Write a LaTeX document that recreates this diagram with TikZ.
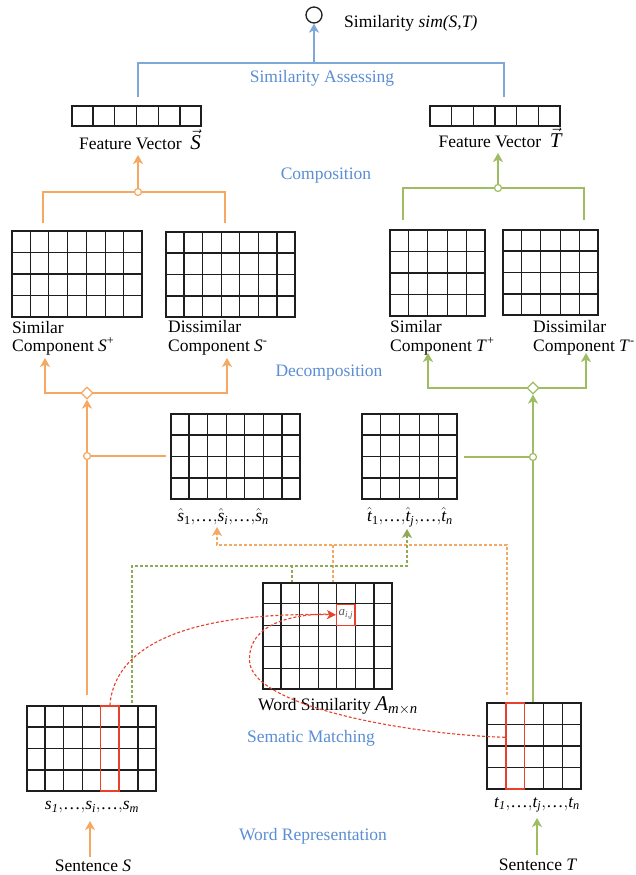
\documentclass[tikz,border=0pt]{standalone}
\usepackage{fontspec}
\setmainfont{Liberation Serif}
\usepackage{amsmath}
\usetikzlibrary{calc,arrows.meta,shapes.geometric}
\definecolor{ora}{HTML}{F5A862}
\definecolor{gre}{HTML}{9EBD63}
\definecolor{greD}{HTML}{8DAA55}
\definecolor{blu}{HTML}{7FA7D7}
\definecolor{blut}{HTML}{5B8ED4}
\definecolor{redd}{HTML}{E8402C}
\definecolor{gridc}{HTML}{1E1E1E}
\newcommand\matgrid[3]{%
  \pgfmathtruncatemacro\mgc{#2-1}\pgfmathtruncatemacro\mgr{#3-1}%
  \foreach \k in {1,...,\mgc}{\draw[gridline] ($(#1.north west)!{\k/#2}!(#1.north east)$) -- ($(#1.south west)!{\k/#2}!(#1.south east)$);}%
  \ifnum\mgr>0
  \foreach \k in {1,...,\mgr}{\draw[gridline] ($(#1.north west)!{\k/#3}!(#1.south west)$) -- ($(#1.north east)!{\k/#3}!(#1.south east)$);}%
  \fi
}
\newcommand\myell{\text{…}}
\newcommand\mycm{{,}}
\tikzset{
  mat/.style={draw=gridc, line width=1.2pt, inner sep=0pt},
  gridline/.style={draw=gridc, line width=1.2pt},
  conn/.style={line width=1.3pt},
  oline/.style={conn, draw=ora},
  gline/.style={conn, draw=gre},
  bline/.style={conn, draw=blu},
  tipA/.style={-{Stealth[length=9pt,width=10pt,inset=2.5pt]}},
  tipB/.style={{Stealth[length=9pt,width=10pt,inset=2.5pt]}-{Stealth[length=9pt,width=10pt,inset=2.5pt]}},
  odash/.style={draw=ora, line width=1.1pt, dash pattern=on 3pt off 2pt},
  gdash/.style={draw=greD, line width=1.1pt, dash pattern=on 3pt off 2pt},
  rdash/.style={draw=redd, line width=1.1pt, dash pattern=on 3pt off 2pt},
  redbox/.style={draw=redd, line width=1.4pt, inner sep=0pt},
  junc/.style={circle, draw=#1, fill=white, line width=1.2pt, minimum size=7pt, inner sep=0pt},
  diam/.style={diamond, draw=#1, fill=white, line width=1.2pt, minimum size=12pt, inner sep=0pt},
  lbl/.style={font=\fontsize{17.5}{19}\selectfont, inner sep=0pt},
  blbl/.style={lbl, text=blut},
}
\begin{document}
\begin{tikzpicture}[x=1pt,y=-1pt]
\path[use as bounding box, fill=white] (0,0) rectangle (635,875);

% ---------- top ----------
\node[draw=gridc, circle, line width=1.3pt, minimum size=16pt, inner sep=0pt] (simc) at (314,15) {};
\node[lbl, anchor=base west] (simt) at (344,28) {Similarity \textit{sim(S,T)}};
\node[blbl] (lSA) at (322,78) {Similarity Assessing};
\coordinate (bL) at (138,97);
\coordinate (bR) at (504,97);
\coordinate (bM) at (314,63);
\draw[bline] (bL) |- (bM) -| (bR);
\draw[bline, tipA] (bM) -- (simc);

% feature vectors
\node[mat, minimum width=129pt, minimum height=20pt] (FVS) at (136.5,116) {};
\matgrid{FVS}{6}{1}
\node[mat, minimum width=130pt, minimum height=20pt] (FVT) at (495,116) {};
\matgrid{FVT}{6}{1}
\node[lbl, anchor=base] (FVSl) at (140,149) {Feature Vector~ {\fontsize{21}{21}\selectfont$\vec{\textit{S}}$}};
\node[lbl, anchor=base] (FVTl) at (500,147) {Feature Vector~ {\fontsize{21}{21}\selectfont$\vec{\textit{T}}$}};

\node[blbl] (lCo) at (326,176) {Composition};

% composition connectors
\coordinate (ocL) at (43,223);
\coordinate (ocR) at (225,223);
\coordinate (oj1) at (138,192);
\coordinate (ot1) at (138,155);
\draw[oline] (ocL) |- (oj1) -| (ocR);
\node[junc=ora] (oc1) at (oj1) {};
\draw[oline, tipA] (oc1) -- (ot1);

\coordinate (gcL) at (403,220);
\coordinate (gcR) at (584,220);
\coordinate (gj1) at (498,188);
\coordinate (gt1) at (498,153);
\draw[gline] (gcL) |- (gj1) -| (gcR);
\node[junc=gre] (gc1) at (gj1) {};
\draw[gline, tipA] (gc1) -- (gt1);

% component matrices
\node[mat, minimum width=130pt, minimum height=86pt] (Sp) at (77,274) {};
\matgrid{Sp}{7}{4}
\node[mat, minimum width=129pt, minimum height=85pt] (Sm) at (230.5,274.5) {};
\matgrid{Sm}{7}{4}
\node[mat, minimum width=95pt, minimum height=86pt] (Tp) at (437.5,273) {};
\matgrid{Tp}{5}{4}
\node[mat, minimum width=95pt, minimum height=85pt] (Tm) at (550.5,272.5) {};
\matgrid{Tm}{5}{4}

\node[lbl, anchor=base west] (SpA) at (12,333) {Similar};
\node[lbl, anchor=base west] (SpB) at (12,351) {Component \textit{S}\textsuperscript{+}};
\node[lbl, anchor=base west] (SmA) at (168,332) {Dissimilar};
\node[lbl, anchor=base west] (SmB) at (168,351) {Component \textit{S}\textsuperscript{-}};
\node[lbl, anchor=base west] (TpA) at (390,332) {Similar};
\node[lbl, anchor=base west] (TpB) at (390,351) {Component \textit{T}\textsuperscript{+}};
\node[lbl, anchor=base west] (TmA) at (533,332) {Dissimilar};
\node[lbl, anchor=base west] (TmB) at (533,351) {Component \textit{T}\textsuperscript{-}};

\node[blbl] (lDe) at (329,373) {Decomposition};

% decomposition connectors
\coordinate (oaL) at (45,358);
\coordinate (oaR) at (227,358);
\coordinate (oj2) at (87,393);
\draw[oline, tipB] (oaL) |- (oj2) -| (oaR);
\node[diam=ora] (odia) at (oj2) {};
\coordinate (ov1) at (87,695);
\draw[oline, tipA] (ov1) -- (odia);
\node[junc=ora] (oc2) at (87,456) {};
\coordinate (oh2) at (166,456);
\draw[oline] (oc2) -- (oh2);

\coordinate (gaL) at (428,353);
\coordinate (gaR) at (586,353);
\coordinate (gj2) at (533,388);
\draw[gline, tipB] (gaL) |- (gj2) -| (gaR);
\node[diam=gre] (gdia) at (gj2) {};
\coordinate (gv1) at (533,703);
\draw[gline, tipA] (gv1) -- (gdia);
\node[junc=gre] (gc2) at (533,457) {};
\coordinate (gh2) at (464,457);
\draw[gline] (gc2) -- (gh2);

% hat matrices
\node[mat, minimum width=129pt, minimum height=85pt] (Sh) at (235.5,456.5) {};
\matgrid{Sh}{7}{4}
\node[mat, minimum width=95pt, minimum height=85pt] (Th) at (409.5,456.5) {};
\matgrid{Th}{5}{4}
\node[lbl] (Shl) at (223,517) {$\hat{\textit{s}}_{\text{1}}\mycm\myell\mycm\hat{\textit{s}}_{\textit{i}}\mycm\myell\mycm\hat{\textit{s}}_{\textit{n}}$};
\node[lbl] (Thl) at (410,517) {$\hat{\textit{t}}_{\text{1}}\mycm\myell\mycm\hat{\textit{t}}_{\textit{j}}\mycm\myell\mycm\hat{\textit{t}}_{\textit{n}}$};

% dashed connectors
\coordinate (od1) at (507,695);
\coordinate (odc) at (507,545);
\coordinate (od2) at (217,527);
\draw[odash, tipA] (od1) -- (odc) -| (od2);
\coordinate (ob) at (333,583);
\draw[odash] (ob) -- (ob |- odc);

\coordinate (gd1) at (132,703);
\coordinate (gdc) at (132,566);
\coordinate (gd2) at (407,529);
\draw[gdash, tipA] (gd1) -- (gdc) -| (gd2);
\coordinate (gb) at (292,583);
\draw[gdash] (gb) -- (gb |- gdc);

% word similarity matrix
\node[mat, minimum width=129pt, minimum height=106pt] (WS) at (327.5,636) {};
\matgrid{WS}{7}{5}
\node[redbox, minimum width=18.4pt, minimum height=21.2pt, font=\fontsize{13}{13}\selectfont, text=black!65] (aij) at (345.9,614.8) {$\textit{a}_{\textit{i,j}}$};
\node[lbl, anchor=base] (WSl) at (338,710) {Word Similarity {\fontsize{21}{21}\selectfont$\textit{A}_{\textit{m}\times\textit{n}}$}};
\node[blbl] (lSM) at (311,738) {Sematic Matching};

% sentence matrices
\node[mat, minimum width=129pt, minimum height=85pt] (S) at (91.5,748.5) {};
\matgrid{S}{7}{4}
\node[redbox, minimum width=18.4pt, minimum height=85pt] (Scol) at (109.9,748.5) {};
\node[mat, minimum width=94pt, minimum height=86pt] (T) at (534,746) {};
\matgrid{T}{5}{4}
\node[redbox, minimum width=18.8pt, minimum height=86pt] (Tcol) at (515.2,746) {};

\node[lbl] (Sl) at (92,807) {$\textit{s}_{\textit{1}}\mycm\myell\mycm\textit{s}_{\textit{i}}\mycm\myell\mycm\textit{s}_{\textit{m}}$};
\node[lbl] (Tl) at (537,805) {$\textit{t}_{\textit{1}}\mycm\myell\mycm\textit{t}_{\textit{j}}\mycm\myell\mycm\textit{t}_{\textit{n}}$};

\node[blbl] (lWR) at (313,836) {Word Representation};

\node[lbl] (SenS) at (93,866) {Sentence \textit{S}};
\node[lbl] (SenT) at (538,865) {Sentence \textit{T}};
\coordinate (osb) at (90,857);
\coordinate (ost) at (90,821);
\draw[oline, tipA] (osb) -- (ost);
\coordinate (gsb) at (537,855);
\coordinate (gst) at (537,818);
\draw[gline, tipA] (gsb) -- (gst);

% red matching curves
\coordinate (rt) at ($(Tcol.north west)!0.4!(Tcol.south west)$);
\coordinate (rm) at (250,665);
\coordinate (re) at (330,614);
\draw[rdash] (rt) .. controls (420,735) and (262,710) .. (rm) .. controls (245,630) and (280,614) .. (re);
\draw[rdash, -{Stealth[length=9pt,width=9pt,inset=2.5pt]}] (Scol.north) .. controls (115,640) and (200,612) .. (aij.west);
\end{tikzpicture}
\end{document}
